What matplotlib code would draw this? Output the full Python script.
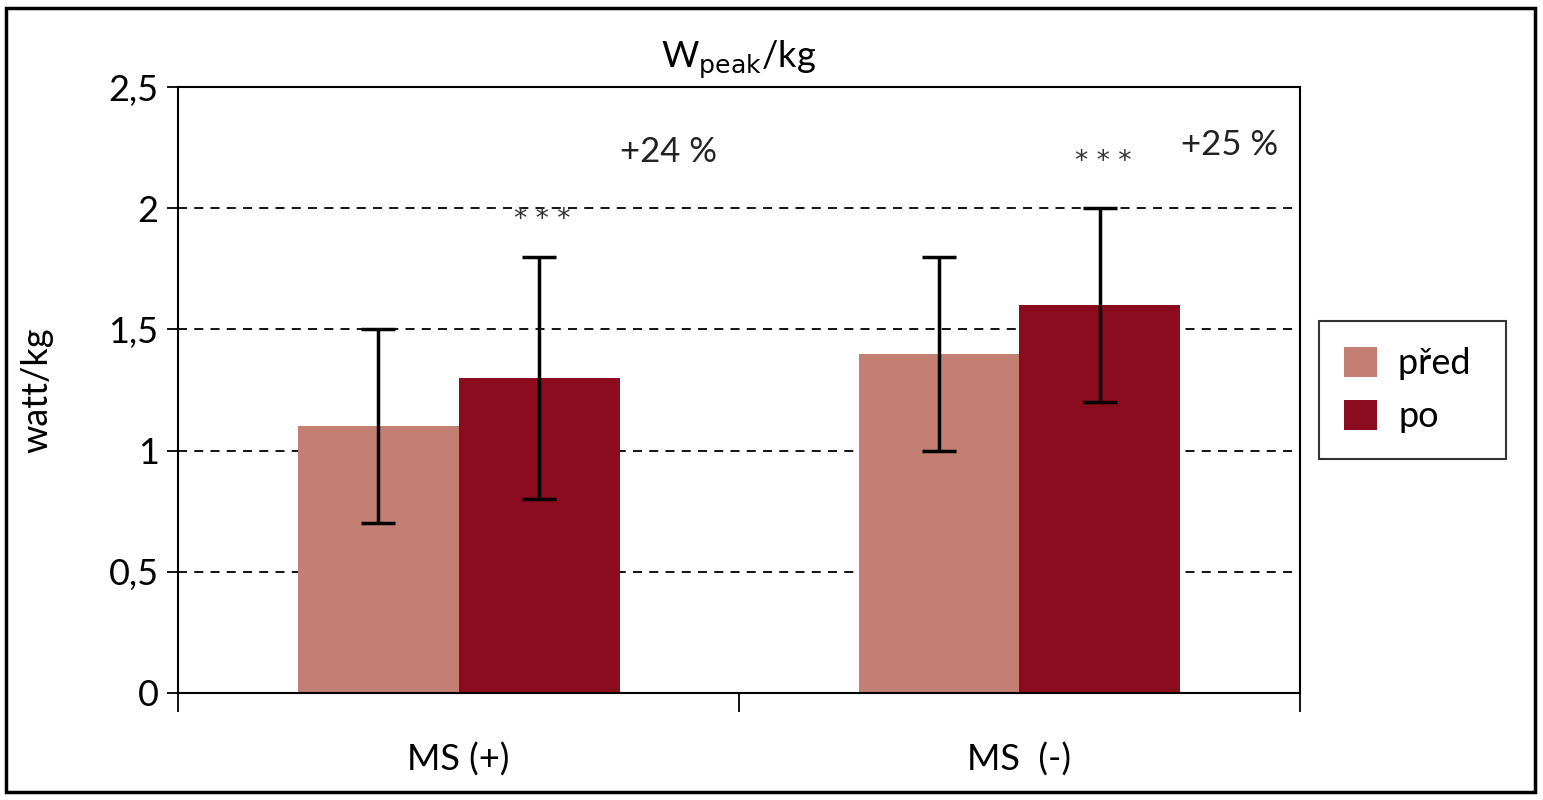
import matplotlib.pyplot as plt
from matplotlib.patches import Rectangle
import numpy as np

groups = ['MS (+)', 'MS  (-)']
pred = [1.1, 1.4]
pred_err = [0.4, 0.4]
po = [1.3, 1.6]
po_err = [0.5, 0.4]
change_labels = ['+24 %', '+25 %']
change_y = [2.23, 2.26]
star_y = [1.95, 2.19]
yticks = [0, 0.5, 1, 1.5, 2, 2.5]
ytick_labels = ['0', '0,5', '1', '1,5', '2', '2,5']

plt.rcParams['font.family'] = ['Lato', 'DejaVu Sans']

fig = plt.figure(figsize=(15.43, 8), dpi=100)
ax = fig.add_axes([0.1154, 0.13375, 0.7271, 0.7575])

x = np.arange(len(groups))
w = 0.287
ax.bar(x - w / 2, pred, w, color='#C47F74', label='před', zorder=2)
ax.bar(x + w / 2, po, w, color='#8B0C1E', label='po', zorder=2)
ax.errorbar(x - w / 2, pred, yerr=pred_err, fmt='none', ecolor='black',
            elinewidth=2.5, capsize=12, capthick=2.5, zorder=3)
ax.errorbar(x + w / 2, po, yerr=po_err, fmt='none', ecolor='black',
            elinewidth=2.5, capsize=12, capthick=2.5, zorder=3)

for i in range(len(groups)):
    ax.text(x[i] + 0.375, change_y[i], change_labels[i], ha='center', va='center',
            fontsize=25, color='#222222')
    ax.text(x[i] + 0.15, star_y[i], '* * *', ha='center', va='center',
            fontsize=19, color='#333333', family='DejaVu Sans')

ax.set_xlim(-0.5, 1.5)
ax.set_ylim(0, 2.5)
ax.set_yticks(yticks)
ax.set_yticklabels(ytick_labels, fontsize=26)
ax.yaxis.grid(True, linestyle=(0, (5, 4)), color='black', linewidth=1.3, zorder=0)

ax.set_xticks(x)
ax.set_xticklabels(groups, fontsize=26)
ax.tick_params(axis='x', which='major', length=0, pad=36)
ax.set_xticks([-0.5, 0.5, 1.5], minor=True)
ax.tick_params(axis='x', which='minor', length=14, width=1.3, direction='out')
ax.tick_params(axis='y', length=8, width=1.3, pad=6)

for s in ax.spines.values():
    s.set_linewidth(1.5)

ax.set_ylabel('watt/kg', fontsize=26, labelpad=40)
ax.set_title(r'W$_{\mathrm{peak}}$/kg', fontsize=26, pad=14)

leg = ax.legend(['před ', 'po'], loc='center left', bbox_to_anchor=(1.017, 0.5),
                fontsize=26, frameon=True, fancybox=False, edgecolor='black',
                handlelength=0.9, handleheight=0.9, handletextpad=0.6,
                borderpad=0.7, labelspacing=0.55, borderaxespad=0)
leg.get_frame().set_linewidth(1.5)

fig.patches.append(Rectangle((0.004, 0.01), 0.991, 0.98, transform=fig.transFigure,
                             fill=False, edgecolor='black', linewidth=2.5))

fig.savefig('out.png', dpi=100)
